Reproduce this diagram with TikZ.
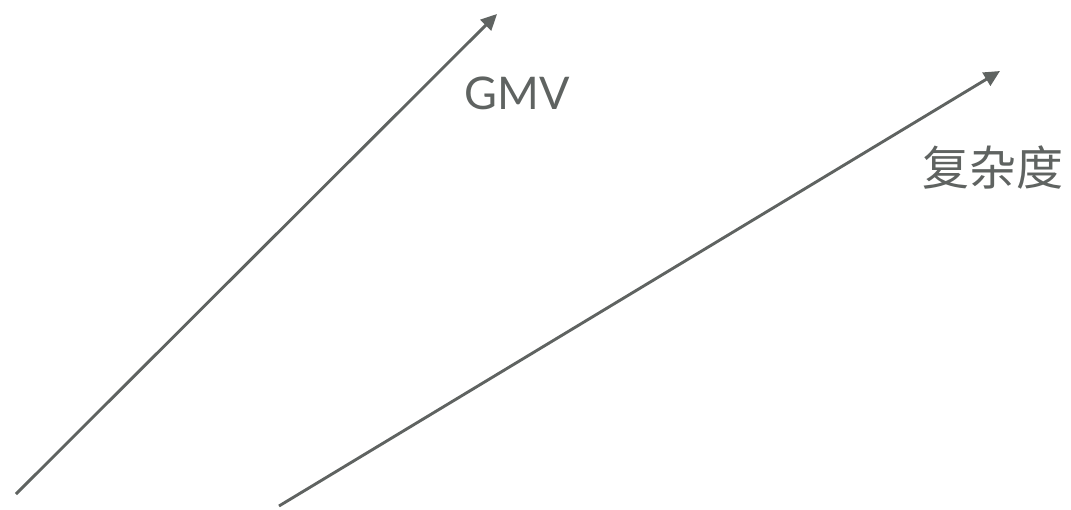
\documentclass[tikz,border=0pt]{standalone}
\usepackage{fontspec}
\setmainfont{Lato}
\newfontfamily\cjk{Noto Sans CJK SC}
\usetikzlibrary{arrows.meta}
\definecolor{ink}{HTML}{5F6361}
\tikzset{
  arr/.style={draw=ink, line width=2.9pt, -{Triangle[length=16pt,width=15pt]}},
  lbl/.style={text=ink, inner sep=0pt}
}
\begin{document}
\begin{tikzpicture}[x=1pt,y=-1pt]
\useasboundingbox (0,0) rectangle (1071,509);
\coordinate (a1) at (16,494);
\coordinate (b1) at (497,14);
\coordinate (a2) at (279,506);
\coordinate (b2) at (1000,71);
\draw[arr] (a1) -- (b1);
\draw[arr] (a2) -- (b2);
\node[lbl, font=\fontsize{45}{50}\selectfont] (gmv) at (517,93) {GMV};
\node[lbl, font=\cjk\fontsize{47}{50}\selectfont] (cx) at (993,168) {复杂度};
\end{tikzpicture}
\end{document}
